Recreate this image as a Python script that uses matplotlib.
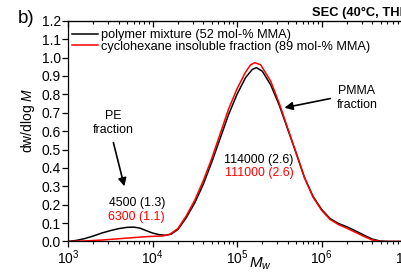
import numpy as np
import matplotlib
matplotlib.use("Agg")
import matplotlib.pyplot as plt

plt.rcParams['font.family'] = ['Liberation Sans', 'DejaVu Sans']
plt.rcParams['mathtext.fontset'] = 'custom'
plt.rcParams['mathtext.rm'] = 'Liberation Sans'
plt.rcParams['mathtext.it'] = 'Liberation Sans:italic'

# log10(M) and dw/dlogM
logm_mix = [3.00, 3.10, 3.20, 3.30, 3.40, 3.50, 3.60, 3.70, 3.78, 3.85, 3.92, 4.00,
            4.08, 4.15, 4.22, 4.30, 4.40, 4.50, 4.60, 4.70, 4.80, 4.90, 5.00, 5.10,
            5.18, 5.23, 5.30, 5.40, 5.50, 5.60, 5.70, 5.80, 5.90, 6.00, 6.10, 6.20,
            6.30, 6.40, 6.50, 6.60, 6.70, 6.80, 7.00]
w_mix = [0.000, 0.006, 0.016, 0.030, 0.046, 0.059, 0.070, 0.077, 0.078, 0.073, 0.060, 0.046,
         0.037, 0.034, 0.040, 0.065, 0.130, 0.210, 0.310, 0.430, 0.560, 0.690, 0.800, 0.890,
         0.935, 0.945, 0.925, 0.850, 0.740, 0.610, 0.480, 0.345, 0.245, 0.175, 0.125, 0.098,
         0.080, 0.058, 0.035, 0.013, 0.002, 0.000, 0.000]

logm_insol = [3.00, 3.20, 3.40, 3.60, 3.80, 3.95, 4.05, 4.12, 4.20, 4.30, 4.40, 4.50,
              4.60, 4.70, 4.80, 4.90, 5.00, 5.10, 5.16, 5.21, 5.28, 5.40, 5.50, 5.60,
              5.70, 5.80, 5.90, 6.00, 6.10, 6.20, 6.30, 6.40, 6.50, 6.60, 6.70, 7.00]
w_insol = [0.000, 0.003, 0.008, 0.015, 0.022, 0.027, 0.029, 0.030, 0.038, 0.070, 0.140, 0.225,
           0.330, 0.450, 0.585, 0.720, 0.830, 0.920, 0.960, 0.972, 0.960, 0.870, 0.750, 0.615,
           0.480, 0.345, 0.240, 0.170, 0.120, 0.092, 0.072, 0.050, 0.028, 0.008, 0.000, 0.000]

labels = ['polymer mixture (52 mol-% MMA)', 'cyclohexane insoluble fraction (89 mol-% MMA)']

fig = plt.figure(figsize=(4.01, 2.78), dpi=100)
ax = fig.add_axes([0.1696, 0.1313, 0.843, 0.7942])

ax.plot(10 ** np.array(logm_mix), w_mix, color='black', lw=1.1, label=labels[0])
ax.plot(10 ** np.array(logm_insol), w_insol, color='#ff0000', lw=1.1, label=labels[1])

ax.set_xscale('log')
ax.set_xlim(1e3, 1e7)
ax.set_ylim(0, 1.2)
ax.set_yticks(np.arange(0, 1.21, 0.1))
ax.yaxis.set_major_formatter(matplotlib.ticker.FormatStrFormatter('%.1f'))
ax.tick_params(axis='both', which='major', direction='out', length=4, width=0.9, labelsize=10, pad=1)
ax.tick_params(axis='x', which='minor', direction='out', length=2.5, width=0.8)
ax.spines['right'].set_visible(False)
for s in ['left', 'bottom', 'top']:
    ax.spines[s].set_linewidth(0.9)

sec = ax.secondary_xaxis('top')
sec.tick_params(axis='x', which='major', direction='in', length=4, width=0.9, labeltop=False)
sec.tick_params(axis='x', which='minor', direction='in', length=2.5, width=0.8, labeltop=False)
sec.set_xticklabels([])

ax.set_ylabel('dw/dlog $M$', fontsize=10)
ax.yaxis.set_label_coords(-0.092, 0.55)
ax.set_xlabel('$M_w$', fontsize=11)
ax.xaxis.set_label_coords(0.568, -0.062)

leg = ax.legend(loc='upper left', bbox_to_anchor=(-0.003, 0.985), frameon=False, fontsize=9.2,
                handlelength=2.0, handletextpad=0.25, borderaxespad=0.2, borderpad=0.2,
                labelspacing=-0.03)

ann = 8.9
ax.text(3.41e3, 0.643, 'PE\nfraction', ha='center', va='center', fontsize=ann)
ax.annotate('', xy=(10 ** 3.675, 0.285), xytext=(10 ** 3.529, 0.552),
            arrowprops=dict(arrowstyle='-|>', color='black', lw=1.2, mutation_scale=12))
ax.text(10 ** 3.813, 0.208, '4500 (1.3)', ha='center', va='center', fontsize=ann)
ax.text(10 ** 3.813, 0.135, '6300 (1.1)', ha='center', va='center', fontsize=ann, color='#ff0000')
ax.text(10 ** 5.26, 0.443, '114000 (2.6)', ha='center', va='center', fontsize=ann)
ax.text(10 ** 5.26, 0.371, '111000 (2.6)', ha='center', va='center', fontsize=ann, color='#ff0000')
ax.text(10 ** 6.417, 0.779, 'PMMA\nfraction', ha='center', va='center', fontsize=ann)
ax.annotate('', xy=(10 ** 5.529, 0.724), xytext=(10 ** 6.136, 0.78),
            arrowprops=dict(arrowstyle='-|>', color='black', lw=1.2, mutation_scale=12))

fig.text(312 / 401, 1 - 16 / 278, 'SEC (40°C, THF)', fontsize=9.3, fontweight='bold', va='baseline')
fig.text(18 / 401, 1 - 23 / 278, 'b)', fontsize=13.5, va='baseline')

fig.savefig('out.png', dpi=100)
